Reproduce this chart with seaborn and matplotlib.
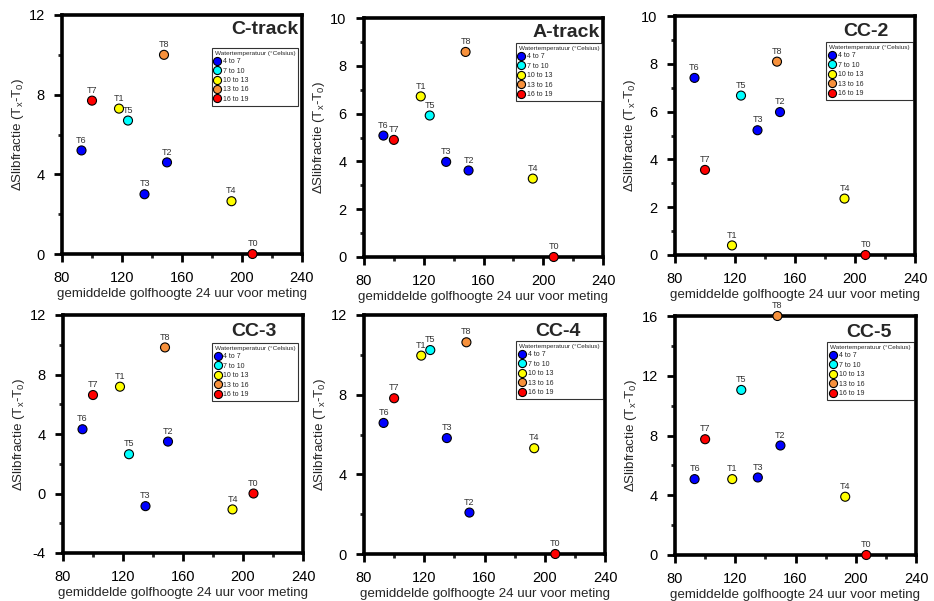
import matplotlib
matplotlib.use("Agg")
import matplotlib.pyplot as plt
from matplotlib.ticker import MultipleLocator
import seaborn as sns
import pandas as pd

# ---- data ----
metingen = ["T0", "T1", "T2", "T3", "T4", "T5", "T6", "T7", "T8"]
golfhoogte = [207, 118, 150, 135, 193, 124, 93, 100, 148]
temp_klasse = ["16 to 19", "10 to 13", "4 to 7", "4 to 7", "10 to 13",
               "7 to 10", "4 to 7", "16 to 19", "13 to 16"]
klassen = ["4 to 7", "7 to 10", "10 to 13", "13 to 16", "16 to 19"]
kleuren = ["#0000ff", "#00ffff", "#ffff00", "#f7913c", "#ff0000"]

panelen = ["C-track", "A-track", "CC-2", "CC-3", "CC-4", "CC-5"]
c_track = [0, 7.3, 4.6, 3.0, 2.65, 6.7, 5.2, 7.7, 10.0]
a_track = [0, 6.72, 3.62, 3.98, 3.28, 5.92, 5.08, 4.9, 8.58]
cc_2 = [0, 0.4, 5.98, 5.22, 2.36, 6.67, 7.41, 3.56, 8.09]
cc_3 = [0, 7.18, 3.49, -0.85, -1.07, 2.64, 4.32, 6.62, 9.82]
cc_4 = [0, 9.96, 2.08, 5.82, 5.31, 10.24, 6.58, 7.82, 10.63]
cc_5 = [0, 5.08, 7.33, 5.19, 3.9, 11.05, 5.08, 7.75, 16.0]
y_waarden = [c_track, a_track, cc_2, cc_3, cc_4, cc_5]

y_limieten = [(0, 12), (0, 10), (0, 10), (-4, 12), (0, 12), (0, 16)]
y_major = [4, 2, 2, 4, 4, 4]
y_minor = [2, 1, 1, 2, 2, 2]

x_label = "gemiddelde golfhoogte 24 uur voor meting"
y_label = r"$\Delta$Slibfractie (T$_\mathregular{x}$-T$_\mathregular{0}$)"
legend_titel = "Watertemperatuur (°Celsius)"

# ---- layout (pixels: left, top, right, bottom) ----
W, H = 934, 601
rects = [(62, 15, 302, 254), (364, 18, 603, 257), (675, 16, 915, 255),
         (63, 315, 303, 553), (364, 315, 605, 554), (675, 316, 916, 555)]
titel_pos = [(0.983, 0.975), (0.987, 0.975), (0.89, 0.972),
             (0.89, 0.965), (0.90, 0.965), (0.90, 0.965)]
legend_pos = [(0.983, 0.862), (0.996, 0.895), (0.99, 0.891),
              (0.98, 0.882), (0.99, 0.891), (0.99, 0.891)]

sns.set_theme(style="ticks")
plt.rcParams["font.family"] = ["Liberation Sans", "DejaVu Sans"]
plt.rcParams["mathtext.fontset"] = "custom"
plt.rcParams["mathtext.rm"] = "Liberation Sans"
plt.rcParams["mathtext.it"] = "Liberation Sans"
plt.rcParams["axes.unicode_minus"] = False

fig = plt.figure(figsize=(W / 100, H / 100), dpi=100)
fig.patch.set_facecolor("white")

for i, naam in enumerate(panelen):
    l, t, r, b = rects[i]
    ax = fig.add_axes([l / W, (H - b) / H, (r - l) / W, (b - t) / H])
    df = pd.DataFrame({"x": golfhoogte, "y": y_waarden[i],
                       "klasse": temp_klasse, "meting": metingen})
    sns.scatterplot(data=df, x="x", y="y", hue="klasse", hue_order=klassen,
                    palette=kleuren, s=42, edgecolor="black", linewidth=0.8,
                    ax=ax, zorder=5, clip_on=False)
    for xv, yv, lab in zip(golfhoogte, y_waarden[i], metingen):
        ax.annotate(lab, (xv, yv), xytext=(0, 4.2), textcoords="offset points",
                    ha="center", va="bottom", fontsize=6.5, color="#333333")
    ax.set_xlim(80, 240)
    ax.set_ylim(*y_limieten[i])
    ax.xaxis.set_major_locator(MultipleLocator(40))
    ax.xaxis.set_minor_locator(MultipleLocator(20))
    ax.yaxis.set_major_locator(MultipleLocator(y_major[i]))
    ax.yaxis.set_minor_locator(MultipleLocator(y_minor[i]))
    ax.tick_params(which="major", direction="out", length=6, width=2,
                   labelsize=10.5, pad=6.5, colors="black")
    ax.tick_params(which="minor", direction="out", length=3, width=2)
    for sp in ax.spines.values():
        sp.set_visible(True)
        sp.set_linewidth(2.6)
        sp.set_color("black")
    ax.set_xlabel(x_label, fontsize=9.6, labelpad=2)
    ax.set_ylabel(y_label, fontsize=9.6, labelpad=2)
    tx, ty = titel_pos[i]
    ax.text(tx, ty, naam, transform=ax.transAxes, ha="right", va="top",
            fontsize=14, fontweight="bold")
    sns.move_legend(ax, "upper right", bbox_to_anchor=legend_pos[i],
                    borderaxespad=0, title=legend_titel, fontsize=5,
                    title_fontsize=4.6, frameon=True, fancybox=False,
                    labelspacing=0.35, handletextpad=0.4, borderpad=0.4,
                    handlelength=0.8, markerscale=0.9)
    leg = ax.get_legend()
    leg.get_frame().set_edgecolor("black")
    leg.get_frame().set_linewidth(0.8)
    leg._legend_box.align = "left"

fig.savefig("out.png", dpi=100, facecolor="white")
